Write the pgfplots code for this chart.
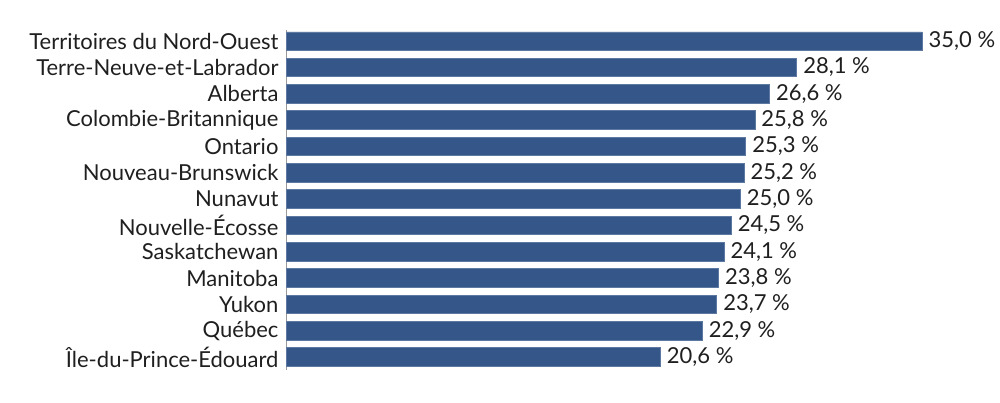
\documentclass[border=0pt]{standalone}
\usepackage{pgfplots}
\pgfplotsset{compat=1.18}
\usepackage{fontspec}
\setmainfont{Lato}
\definecolor{barblue}{RGB}{52,86,137}
\begin{document}
\begin{tikzpicture}[x=1pt,y=1pt]
\useasboundingbox (0,0) rectangle (1000,403);
\begin{axis}[
  at={(286pt,33pt)}, anchor=south west,
  scale only axis, width=636pt, height=340pt,
  xmin=0, xmax=35, ymin=-0.494, ymax=12.42,
  xbar, bar width=18.5pt,
  axis x line=none,
  axis y line*=left,
  y axis line style={draw=gray!80, line width=0.8pt, -},
  ytick={0,...,12},
  yticklabels={Île-du-Prince-Édouard,Québec,Yukon,Manitoba,Saskatchewan,Nouvelle-Écosse,Nunavut,Nouveau-Brunswick,Ontario,Colombie-Britannique,Alberta,Terre-Neuve-et-Labrador,Territoires du Nord-Ouest},
  major tick length=0pt,
  yticklabel style={font=\fontsize{22}{24}\selectfont, text=black!88, xshift=-4pt},
  /pgf/number format/assume math mode=true,
  nodes near coords={\pgfmathprintnumber[fixed,fixed zerofill,precision=1,use comma,assume math mode=true]{\pgfplotspointmeta}~\%},
  nodes near coords style={font=\fontsize{22}{24}\selectfont, text=black!88, xshift=3pt},
  clip=false,
]
\addplot[fill=barblue, draw=barblue!80!white, line width=0.6pt] coordinates {
(20.6,0) (22.9,1) (23.7,2) (23.8,3) (24.1,4) (24.5,5) (25.0,6) (25.2,7) (25.3,8) (25.8,9) (26.6,10) (28.1,11) (35.0,12)
};
\end{axis}
\end{tikzpicture}
\end{document}
